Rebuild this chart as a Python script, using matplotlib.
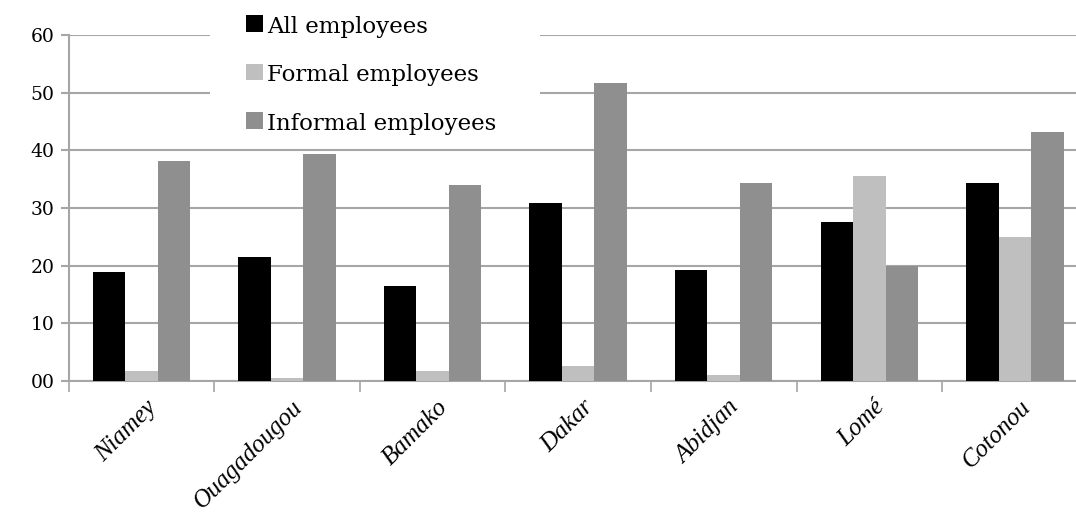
import matplotlib.pyplot as plt
import numpy as np
from matplotlib.patches import Rectangle

# data
cities = ["Niamey", "Ouagadougou", "Bamako", "Dakar", "Abidjan", "Lomé", "Cotonou"]
all_emp = [19.0, 21.5, 16.5, 30.8, 19.2, 27.6, 34.4]
formal_emp = [1.7, 0.6, 1.8, 2.6, 1.0, 35.6, 25.0]
informal_emp = [38.2, 39.4, 34.0, 51.6, 34.4, 20.0, 43.2]
yticks = [0, 10, 20, 30, 40, 50, 60]
ytick_labels = ["00", "10", "20", "30", "40", "50", "60"]

plt.rcParams["font.family"] = ["DejaVu Serif"]

fig = plt.figure(figsize=(10.76, 5.15), dpi=100)
ax = fig.add_axes([0.0638, 0.260, 0.9362, 0.672])

x = np.arange(len(cities))
w = 0.223
grid_c = "#a6a6a6"

ax.bar(x - w, all_emp, w, color="black", label="All employees", zorder=3)
ax.bar(x, formal_emp, w, color="#bfbfbf", label="Formal employees", zorder=3)
ax.bar(x + w, informal_emp, w, color="#8f8f8f", label="Informal employees", zorder=3)

ax.set_ylim(0, 60)
ax.set_xlim(-0.5, 6.42)
ax.set_yticks(yticks)
ax.set_yticklabels(ytick_labels, fontsize=13.5)
ax.yaxis.grid(True, color=grid_c, linewidth=1.5, zorder=0)
ax.set_axisbelow(True)

# category ticks sit between groups, labels centred under each group
ax.set_xticks(np.arange(-0.5, 6.5, 1.0))
ax.set_xticklabels([])
ax.tick_params(axis="x", length=8, width=1.2, color=grid_c)
ax.tick_params(axis="y", length=6, width=1.5, color=grid_c, pad=4)
for i, c in enumerate(cities):
    ax.text(i + 0.03, -2.6, c, rotation=45, ha="right", va="top",
            rotation_mode="anchor", fontsize=18, style="italic",
            family="Liberation Serif")

for s in ["top", "right"]:
    ax.spines[s].set_visible(False)
ax.spines["left"].set_color(grid_c)
ax.spines["left"].set_linewidth(1.5)
ax.spines["bottom"].set_color(grid_c)
ax.spines["bottom"].set_linewidth(1.5)

# white block behind the legend that blanks the gridlines
ax.add_patch(Rectangle((0.195, 0.728), 0.307, 0.272, transform=fig.transFigure,
                       facecolor="white", edgecolor="none", zorder=4,
                       clip_on=False))

leg = ax.legend(loc="center left", bbox_to_anchor=(0.172, 0.884), frameon=False,
                fontsize=16.5, handlelength=0.6, handleheight=0.6,
                handletextpad=0.3, labelspacing=1.15, borderpad=0.2,
                borderaxespad=0)
leg.set_zorder(5)
for h in leg.legend_handles:
    h.set_height(12)
    h.set_width(12)

fig.savefig("out.png", dpi=100)
